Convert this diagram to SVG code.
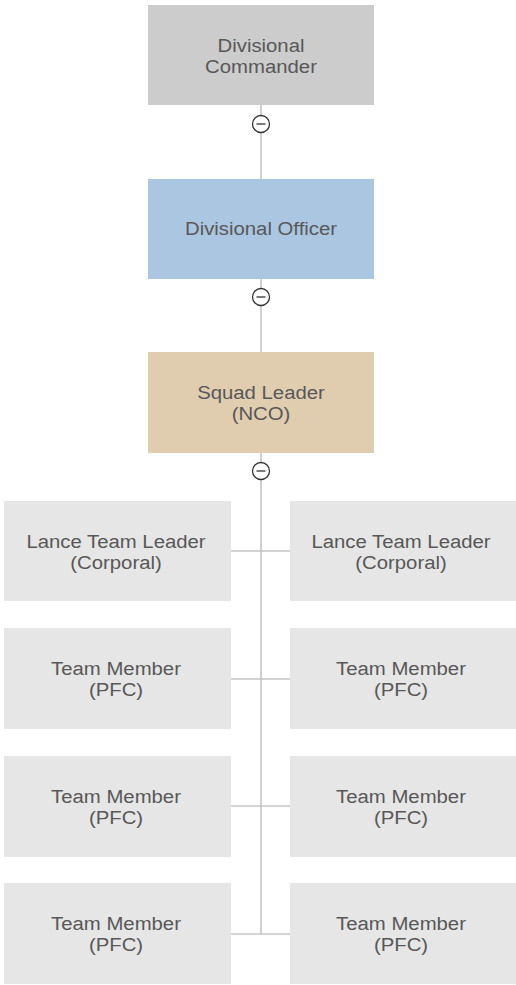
<svg xmlns="http://www.w3.org/2000/svg" width="516" height="985" viewBox="0 0 516 985">
  <style>
    .box { stroke: none; }
    .lbl { font-family: "Liberation Sans", Arial, sans-serif; font-size: 18px; fill: #585858; text-anchor: middle; }
    .link { stroke: #c4c4c4; stroke-width: 1.6; fill: none; }
    .toggle circle { fill: #ffffff; stroke: #333333; stroke-width: 1.3; }
    .toggle line { stroke: #333333; stroke-width: 1.3; }
  </style>
  <rect width="516" height="985" fill="#ffffff"/>

  <g id="connectors">
    <line class="link" x1="261" y1="105" x2="261" y2="179"/>
    <line class="link" x1="261" y1="278" x2="261" y2="352"/>
    <line class="link" x1="261" y1="453" x2="261" y2="934"/>
    <line class="link" x1="231" y1="551" x2="290" y2="551"/>
    <line class="link" x1="231" y1="679" x2="290" y2="679"/>
    <line class="link" x1="231" y1="806" x2="290" y2="806"/>
    <line class="link" x1="231" y1="934" x2="290" y2="934"/>
  </g>

  <g id="divisional-commander">
    <rect class="box" x="148" y="5" width="226" height="100" fill="#cccccc"/>
    <text class="lbl" transform="translate(261 0) scale(1.13 1)" x="0" y="52">Divisional</text>
    <text class="lbl" transform="translate(261 0) scale(1.13 1)" x="0" y="73">Commander</text>
  </g>
  <g id="divisional-officer">
    <rect class="box" x="148" y="179" width="226" height="100" fill="#abc6e0"/>
    <text class="lbl" transform="translate(261 0) scale(1.13 1)" x="0" y="235">Divisional Officer</text>
  </g>
  <g id="squad-leader">
    <rect class="box" x="148" y="352" width="226" height="101" fill="#e0cdb0"/>
    <text class="lbl" transform="translate(261 0) scale(1.13 1)" x="0" y="399.5">Squad Leader</text>
    <text class="lbl" transform="translate(261 0) scale(1.13 1)" x="0" y="420.5">(NCO)</text>
  </g>

  <g id="toggle-1" class="toggle">
    <circle cx="261" cy="124" r="8.5"/>
    <line x1="256.5" y1="124" x2="265.5" y2="124"/>
  </g>
  <g id="toggle-2" class="toggle">
    <circle cx="261" cy="297" r="8.5"/>
    <line x1="256.5" y1="297" x2="265.5" y2="297"/>
  </g>
  <g id="toggle-3" class="toggle">
    <circle cx="261" cy="471" r="8.5"/>
    <line x1="256.5" y1="471" x2="265.5" y2="471"/>
  </g>

  <g id="lance-leader-left">
    <rect class="box" x="4" y="501" width="227" height="100" fill="#e6e6e6"/>
    <text class="lbl" transform="translate(116 0) scale(1.13 1)" x="0" y="548">Lance Team Leader</text>
    <text class="lbl" transform="translate(116 0) scale(1.13 1)" x="0" y="569">(Corporal)</text>
  </g>
  <g id="lance-leader-right">
    <rect class="box" x="290" y="501" width="226" height="100" fill="#e6e6e6"/>
    <text class="lbl" transform="translate(401 0) scale(1.13 1)" x="0" y="548">Lance Team Leader</text>
    <text class="lbl" transform="translate(401 0) scale(1.13 1)" x="0" y="569">(Corporal)</text>
  </g>

  <g id="member-left-1">
    <rect class="box" x="4" y="628" width="227" height="101" fill="#e6e6e6"/>
    <text class="lbl" transform="translate(116 0) scale(1.13 1)" x="0" y="675.5">Team Member</text>
    <text class="lbl" transform="translate(116 0) scale(1.13 1)" x="0" y="696.5">(PFC)</text>
  </g>
  <g id="member-right-1">
    <rect class="box" x="290" y="628" width="226" height="101" fill="#e6e6e6"/>
    <text class="lbl" transform="translate(401 0) scale(1.13 1)" x="0" y="675.5">Team Member</text>
    <text class="lbl" transform="translate(401 0) scale(1.13 1)" x="0" y="696.5">(PFC)</text>
  </g>

  <g id="member-left-2">
    <rect class="box" x="4" y="756" width="227" height="101" fill="#e6e6e6"/>
    <text class="lbl" transform="translate(116 0) scale(1.13 1)" x="0" y="803">Team Member</text>
    <text class="lbl" transform="translate(116 0) scale(1.13 1)" x="0" y="824">(PFC)</text>
  </g>
  <g id="member-right-2">
    <rect class="box" x="290" y="756" width="226" height="101" fill="#e6e6e6"/>
    <text class="lbl" transform="translate(401 0) scale(1.13 1)" x="0" y="803">Team Member</text>
    <text class="lbl" transform="translate(401 0) scale(1.13 1)" x="0" y="824">(PFC)</text>
  </g>

  <g id="member-left-3">
    <rect class="box" x="4" y="883" width="227" height="101" fill="#e6e6e6"/>
    <text class="lbl" transform="translate(116 0) scale(1.13 1)" x="0" y="930.5">Team Member</text>
    <text class="lbl" transform="translate(116 0) scale(1.13 1)" x="0" y="951.5">(PFC)</text>
  </g>
  <g id="member-right-3">
    <rect class="box" x="290" y="883" width="226" height="101" fill="#e6e6e6"/>
    <text class="lbl" transform="translate(401 0) scale(1.13 1)" x="0" y="930.5">Team Member</text>
    <text class="lbl" transform="translate(401 0) scale(1.13 1)" x="0" y="951.5">(PFC)</text>
  </g>
</svg>
